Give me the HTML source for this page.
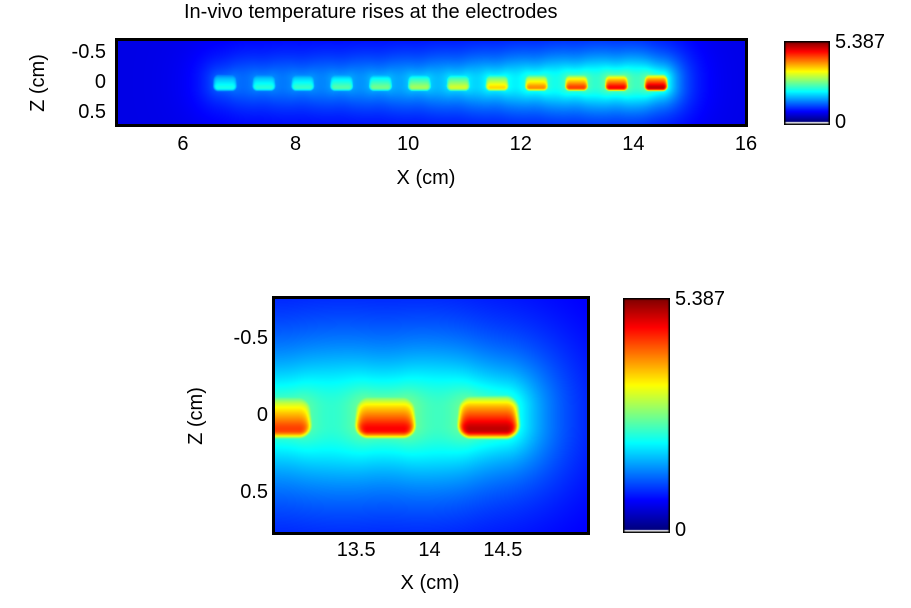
<!DOCTYPE html>
<html><head><meta charset="utf-8"><style>
body{margin:0;background:#fff;width:911px;height:608px;overflow:hidden;position:relative;font-family:"Liberation Sans",Arial,sans-serif;}
.t{position:absolute;font-size:20px;color:#000;white-space:nowrap;line-height:1;}
canvas{position:absolute;}
.box{position:absolute;border:3px solid #000;box-sizing:border-box;}
</style></head><body>
<div class="t" style="left:184px;top:2px;font-size:20px;">In-vivo temperature rises at the electrodes</div>
<canvas id="c1" width="629" height="85" style="left:117px;top:40px"></canvas>
<div class="box" style="left:115px;top:38px;width:633px;height:89px"></div>
<canvas id="cb1" width="46" height="84" style="left:784px;top:41px"></canvas>
<canvas id="c2" width="314" height="235" style="left:274px;top:298px"></canvas>
<div class="box" style="left:272px;top:296px;width:318px;height:239px"></div>
<canvas id="cb2" width="47" height="235" style="left:623px;top:298px"></canvas>
<div id="labels"></div>
<script>
const electrodeX=[6.75,7.44,8.13,8.82,9.51,10.2,10.89,11.58,12.28,12.99,13.7,14.4];
const electrodePeak=[1.9,2.0,2.1,2.3,2.5,2.8,3.1,3.6,4.1,4.6,5.0,5.387];
const tMax=5.387;
const topXTicks=[6,8,10,12,14,16];
const topZTicks=[-0.5,0,0.5];
const botXTicks=[13.5,14,14.5];
const botZTicks=[-0.5,0,0.5];
const cbLabels=["5.387","0"];

function jet(v){v=Math.max(0,Math.min(1,v));
 const r=Math.max(0,Math.min(1,1.5-Math.abs(4*v-3)));
 const g=Math.max(0,Math.min(1,1.5-Math.abs(4*v-2)));
 const b=Math.max(0,Math.min(1,1.5-Math.abs(4*v-1)));
 return [r*255,g*255,b*255];}
function field(x,z){
 let core=0,halo=0;
 for(let i=0;i<electrodeX.length;i++){
  const dx=Math.max(0,Math.abs(x-electrodeX[i])-0.12);
  const dz=Math.max(0,Math.abs(z-0.01)-0.05);
  const d=Math.sqrt(dx*dx+dz*dz)-0.08;
  const grad=0.8+0.2*Math.max(-1,Math.min(1,(z-0.01)/0.1));
  const s=1/(1+Math.exp((d-0.012)/0.018));
  core=Math.max(core,electrodePeak[i]*grad*s);
  const dd=Math.max(0,d);
  halo+=electrodePeak[i]*0.3*Math.exp(-dd/0.31);
 }
 return Math.max(core,halo);
}
function draw(id,x0,x1,z0,z1){
 const c=document.getElementById(id),ctx=c.getContext('2d');
 const W=c.width,H=c.height,img=ctx.createImageData(W,H);
 for(let j=0;j<H;j++)for(let i=0;i<W;i++){
  const x=x0+(x1-x0)*(i+0.5)/W,z=z0+(z1-z0)*(j+0.5)/H;
  const col=jet(0.1+0.9*field(x,z)/tMax);
  const k=(j*W+i)*4;img.data[k]=col[0];img.data[k+1]=col[1];img.data[k+2]=col[2];img.data[k+3]=255;}
 ctx.putImageData(img,0,0);}
draw('c1',4.83,16,-0.7,0.72);
draw('c2',12.94,15.08,-0.76,0.77);
function cbar(id){const c=document.getElementById(id),ctx=c.getContext('2d');
 const W=c.width,H=c.height;
 for(let j=0;j<H;j++){const col=jet(1-j/(H-4));ctx.fillStyle=`rgb(${col[0]|0},${col[1]|0},${col[2]|0})`;ctx.fillRect(0,j,W,1);}
 ctx.fillStyle='#fff';ctx.fillRect(1,H-3,W-2,2);
 ctx.strokeStyle='#000';ctx.lineWidth=1.5;ctx.strokeRect(0.75,0.75,W-1.5,H-1.5);}
cbar('cb1');cbar('cb2');
const L=document.getElementById('labels');
function lab(txt,x,y,name,align){const d=document.createElement('div');d.className='t';d.textContent=txt;
 d.style.top=y+'px';
 if(align==='c'){d.style.left=x+'px';d.style.transform='translateX(-50%)';}
 else if(align==='r'){d.style.right=(911-x)+'px';} else d.style.left=x+'px';
 
 
 L.appendChild(d);}
function sx(v,a,b,p0,p1){return p0+(v-a)/(b-a)*(p1-p0);}
topXTicks.forEach(v=>lab(String(v),sx(v,4.83,16,117,746),134,'top-x-tick','c'));
topZTicks.forEach(v=>lab(String(v),106,sx(v,-0.7,0.72,40,125)-10,'top-z-tick','r'));
lab('X (cm)',426,168,'top-x-axis-title','c');
botXTicks.forEach(v=>lab(String(v),sx(v,12.94,15.08,274,588),540,'bottom-x-tick','c'));
botZTicks.forEach(v=>lab(String(v),268,sx(v,-0.76,0.77,298,533)-10,'bottom-z-tick','r'));
lab('X (cm)',430,573,'bottom-x-axis-title','c');
lab(cbLabels[0],835,32,'top-colorbar-max','l');lab(cbLabels[1],835,112,'top-colorbar-min','l');
lab(cbLabels[0],675,289,'bottom-colorbar-max','l');lab(cbLabels[1],675,520,'bottom-colorbar-min','l');
function rot(txt,x,y,name){const d=document.createElement('div');d.className='t';d.textContent=txt;
 d.style.left=x+'px';d.style.top=y+'px';d.style.transform='translate(-50%,-50%) rotate(-90deg)';
 
 
 L.appendChild(d);}
rot('Z (cm)',38,83,'top-z-axis-title');
rot('Z (cm)',196,416,'bottom-z-axis-title');
</script>
</body></html>
